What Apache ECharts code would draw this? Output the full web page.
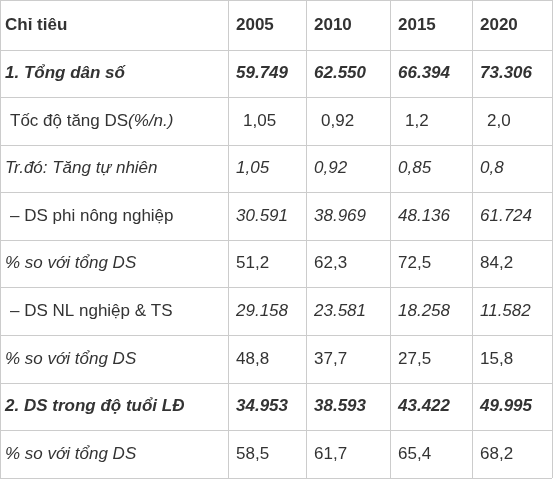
<!DOCTYPE html>
<html><head><meta charset="utf-8">
<script src="https://cdn.jsdelivr.net/npm/echarts@6/dist/echarts.min.js"></script>
<style>html,body{margin:0;padding:0;background:#fff}#c{width:553px;height:480px}</style>
</head><body><div id="c"></div>
<script>
var headers = ["Chỉ tiêu","2005","2010","2015","2020"];
var rowLabels = ["1. Tổng dân số","Tốc độ tăng DS(%/n.)","Tr.đó: Tăng tự nhiên","– DS phi nông nghiệp","% so với tổng DS","– DS NL nghiệp & TS","% so với tổng DS","2. DS trong độ tuổi LĐ","% so với tổng DS"];
var v2005 = ["59.749","1,05","1,05","30.591","51,2","29.158","48,8","34.953","58,5"];
var v2010 = ["62.550","0,92","0,92","38.969","62,3","23.581","37,7","38.593","61,7"];
var v2015 = ["66.394","1,2","0,85","48.136","72,5","18.258","27,5","43.422","65,4"];
var v2020 = ["73.306","2,0","0,8","61.724","84,2","11.582","15,8","49.995","68,2"];

var colX = [0,228,306,390,472,552];
var rowY = [0,50,97,145,192,240,287,335,383,430,478];
var labelStyle = [["bold","italic"],["normal","normal"],["normal","italic"],["normal","normal"],["normal","italic"],["normal","normal"],["normal","italic"],["bold","italic"],["normal","italic"]];
var valStyle = [["bold","italic"],["normal","normal"],["normal","italic"],["normal","italic"],["normal","normal"],["normal","italic"],["normal","normal"],["bold","italic"],["normal","normal"]];
var labelIndent = [5,10,5,10,5,10,5,5,5];
var valIndent = [8,15,8,8,8,8,8,8,8];
var cols = [v2005,v2010,v2015,v2020];
var F = "Liberation Sans, Arial, sans-serif", C = "#333";
var g = [];
for (var i=0;i<rowY.length;i++) g.push({type:'line',shape:{x1:0,y1:rowY[i]+0.5,x2:552,y2:rowY[i]+0.5},style:{stroke:'#ccc',lineWidth:1}});
for (var j=0;j<colX.length;j++) g.push({type:'line',shape:{x1:colX[j]+0.5,y1:0,x2:colX[j]+0.5,y2:478},style:{stroke:'#ccc',lineWidth:1}});
function txt(x,y,t,w,s){g.push({type:'text',x:x,y:y,style:{text:t,font:s+' 17px '+F,fill:C,textVerticalAlign:'middle',verticalAlign:'middle'}});}
for (var k=0;k<headers.length;k++) txt(colX[k]+(k?8:5),(rowY[0]+rowY[1])/2,headers[k],0,'bold');
for (var r=0;r<rowLabels.length;r++){
  var cy=(rowY[r+1]+rowY[r+2])/2;
  if (r===1){
    g.push({type:'text',x:labelIndent[r],y:cy,style:{text:'{a|Tốc độ tăng DS}{b|(%/n.)}',rich:{a:{font:'17px '+F,fill:C},b:{font:'italic 17px '+F,fill:C}},verticalAlign:'middle'}});
  } else txt(labelIndent[r],cy,rowLabels[r],0,labelStyle[r][1]+' '+labelStyle[r][0]);
  for (var c=0;c<4;c++) txt(colX[c+1]+valIndent[r],cy,cols[c][r],0,valStyle[r][1]+' '+valStyle[r][0]);
}
var ch=echarts.init(document.getElementById('c'));
ch.setOption({graphic:g});
</script></body></html>
